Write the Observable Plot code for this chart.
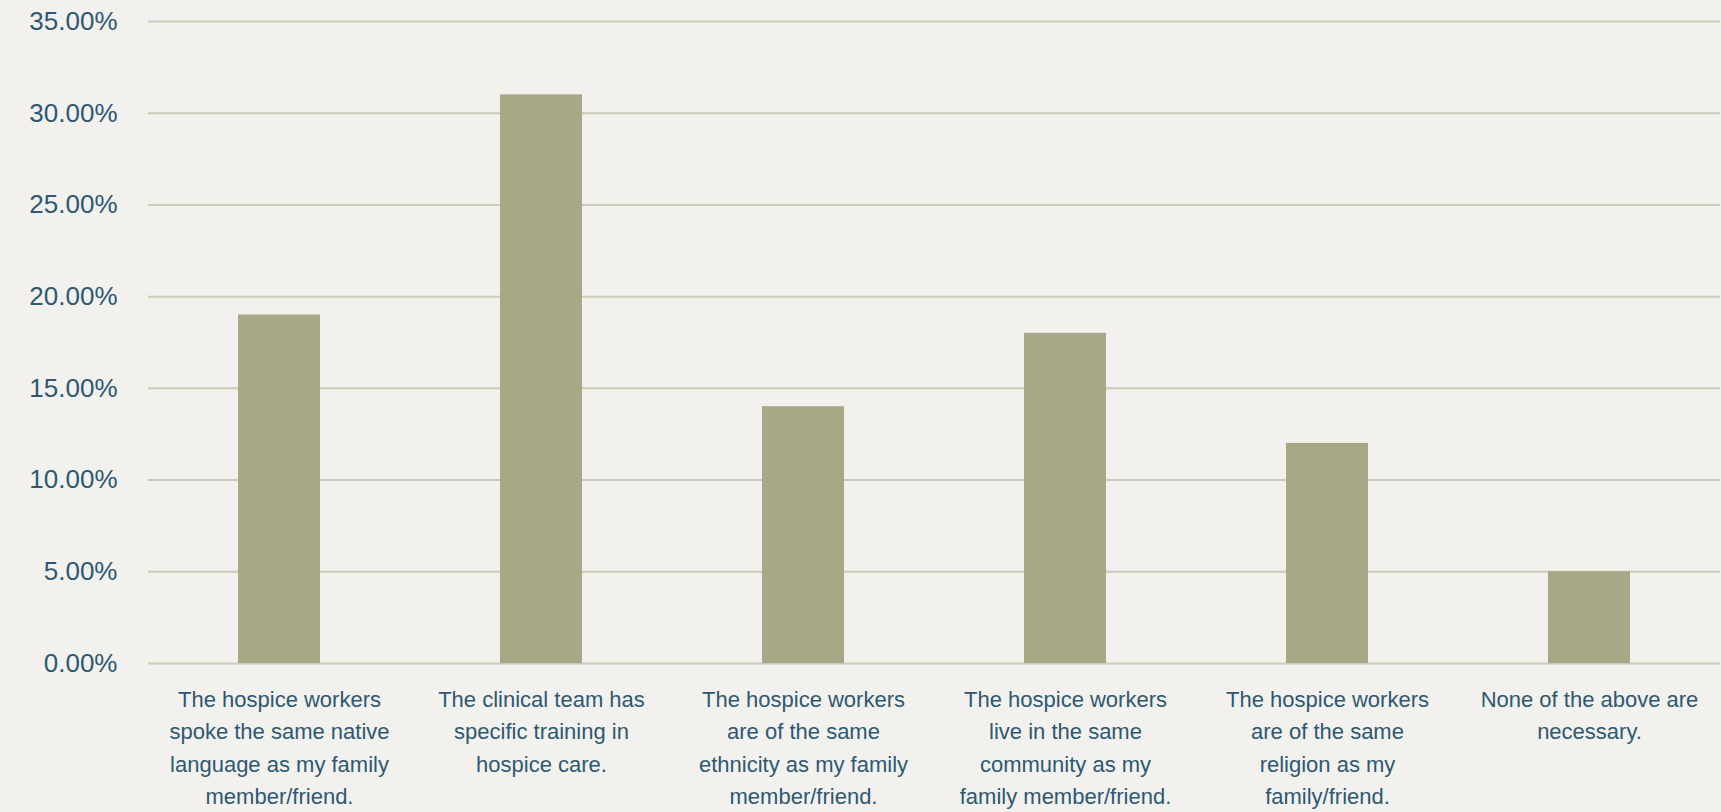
<!DOCTYPE html>
<html>
<head>
<meta charset="utf-8">
<script src="https://cdn.jsdelivr.net/npm/d3@7"></script>
<script src="https://cdn.jsdelivr.net/npm/@observablehq/plot@0.6"></script>
<style>
  html, body { margin: 0; padding: 0; background: #f2f1ed; }
  #chart svg { display: block; }
</style>
</head>
<body>
<div id="chart"></div>
<script>
// Survey answers (wrapped as shown under each bar)
const categories = [
  "The hospice workers\nspoke the same native\nlanguage as my family\nmember/friend.",
  "The clinical team has\nspecific training in\nhospice care.",
  "The hospice workers\nare of the same\nethnicity as my family\nmember/friend.",
  "The hospice workers\nlive in the same\ncommunity as my\nfamily member/friend.",
  "The hospice workers\nare of the same\nreligion as my\nfamily/friend.",
  "None of the above are\nnecessary."
];

// Share of respondents choosing each answer
const shares = [0.19, 0.31, 0.14, 0.18, 0.12, 0.05];

// Y-axis tick values
const yTicks = [0, 0.05, 0.10, 0.15, 0.20, 0.25, 0.30, 0.35];

const data = categories.map((c, i) => ({category: c, share: shares[i]}));

const textColor = "#2f5872";
const barColor = "#a8a886";
const gridColor = "#cbcbb9";

const chart = Plot.plot({
  width: 1721,
  height: 812,
  marginLeft: 148,
  marginRight: 1,
  marginTop: 21,
  marginBottom: 149,
  style: {
    background: "#f2f1ed",
    fontFamily: "'Liberation Sans', Arial, sans-serif",
    color: textColor
  },
  x: {domain: categories, paddingInner: 0.687, paddingOuter: 0.3435, label: null},
  y: {domain: [0, 0.35], label: null},
  marks: [
    Plot.ruleY(yTicks, {stroke: gridColor, strokeWidth: 2}),
    Plot.barY(data, {x: "category", y: "share", fill: barColor}),
    Plot.axisY({
      ticks: yTicks,
      tickFormat: d3.format(".2%"),
      tickSize: 0,
      tickPadding: 31,
      fontSize: 26,
      fill: textColor,
      label: null
    }),
    Plot.axisX({
      tickSize: 0,
      tickPadding: 20,
      fontSize: 22,
      lineHeight: 32.5 / 22,
      fill: textColor,
      label: null
    })
  ]
});

document.getElementById("chart").appendChild(chart);
</script>
</body>
</html>
